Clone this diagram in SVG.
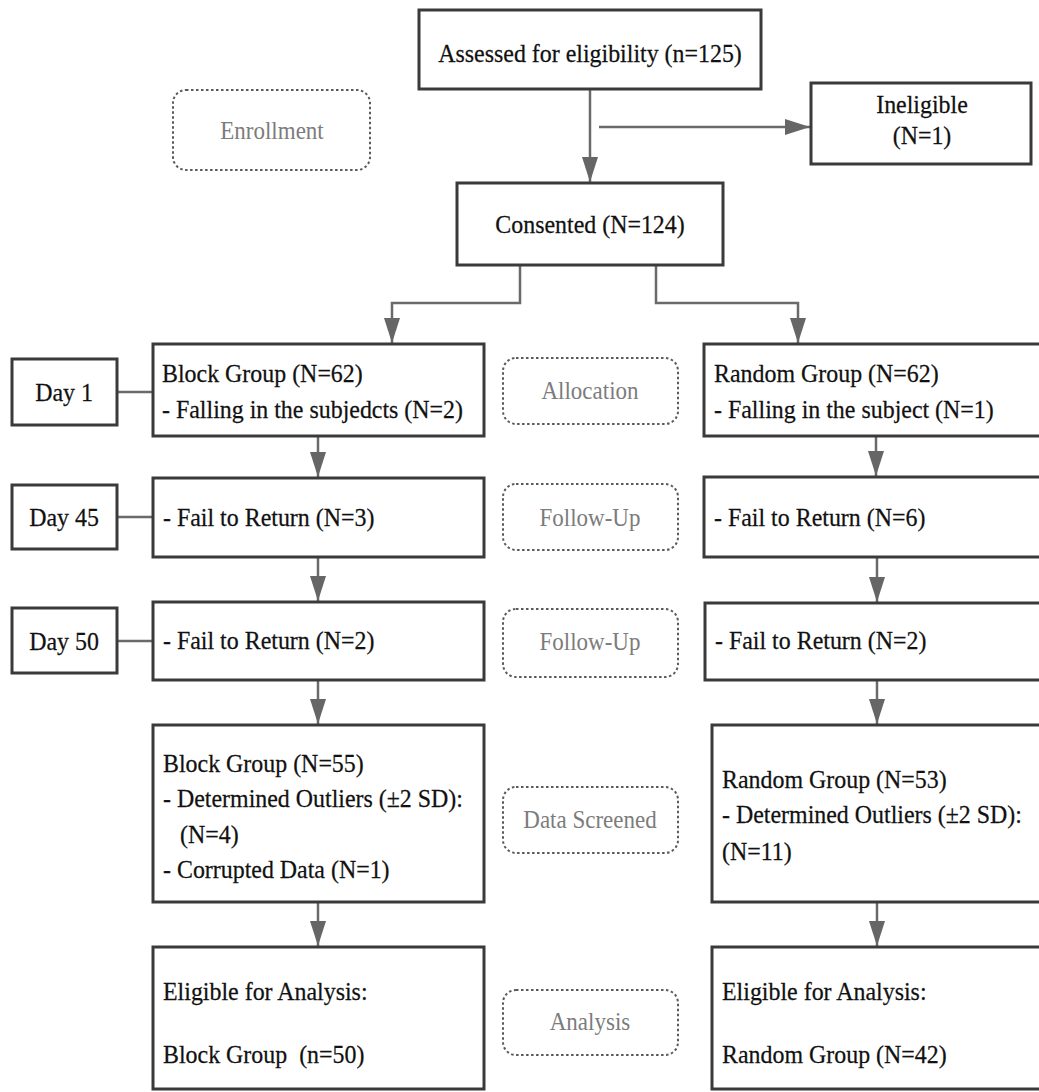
<svg xmlns="http://www.w3.org/2000/svg" width="1039" height="1092" viewBox="0 0 1039 1092">
<style>
.box{fill:#fff;stroke:#3a3a3a;stroke-width:3}
.phase{fill:#fff;stroke:#5a5a5a;stroke-width:2;stroke-dasharray:2.5 2.5}
.t{font-family:"Liberation Serif","Times New Roman",serif;font-size:26px;fill:#111;stroke:#111;stroke-width:0.25}
.c{text-anchor:middle}
.p{font-family:"Liberation Serif","Times New Roman",serif;font-size:25px;fill:#7c7c7c;text-anchor:middle}
.ln{fill:none;stroke:#6a6a6a;stroke-width:2.5}
</style>
<defs>
<marker id="ah" markerUnits="userSpaceOnUse" markerWidth="26" markerHeight="18" refX="25" refY="8" orient="auto">
<path d="M0,0 L25,8 L0,16 Z" fill="#666"/>
</marker>
</defs>
<rect width="1039" height="1092" fill="#fff"/>
<g id="connectors">
<line class="ln" x1="590" y1="89" x2="590" y2="182" marker-end="url(#ah)"/>
<line class="ln" x1="599" y1="127" x2="810" y2="127" marker-end="url(#ah)"/>
<path class="ln" d="M520,265 V303 H392 V343" marker-end="url(#ah)"/>
<path class="ln" d="M656,265 V303 H798 V343" marker-end="url(#ah)"/>
<line class="ln" x1="117" y1="392" x2="153" y2="392"/>
<line class="ln" x1="117" y1="517" x2="153" y2="517"/>
<line class="ln" x1="117" y1="641" x2="153" y2="641"/>
<line class="ln" x1="318" y1="436" x2="318" y2="477" marker-end="url(#ah)"/>
<line class="ln" x1="318" y1="557" x2="318" y2="601" marker-end="url(#ah)"/>
<line class="ln" x1="318" y1="680" x2="318" y2="724" marker-end="url(#ah)"/>
<line class="ln" x1="318" y1="902" x2="318" y2="946" marker-end="url(#ah)"/>
<line class="ln" x1="876" y1="436" x2="876" y2="476" marker-end="url(#ah)"/>
<line class="ln" x1="877" y1="557" x2="877" y2="602" marker-end="url(#ah)"/>
<line class="ln" x1="877" y1="680" x2="877" y2="724" marker-end="url(#ah)"/>
<line class="ln" x1="877" y1="902" x2="877" y2="946" marker-end="url(#ah)"/>
</g>
<g id="assessed"><rect class="box" x="419" y="10" width="342" height="79"/><text class="t c" transform="translate(590,62) scale(0.92,1)">Assessed for eligibility (n=125)</text></g>
<g id="ineligible"><rect class="box" x="811" y="83" width="220" height="81"/><text class="t c" transform="translate(922,113) scale(0.92,1)">Ineligible</text><text class="t c" transform="translate(922,144) scale(0.92,1)">(N=1)</text></g>
<g id="consented"><rect class="box" x="457" y="183" width="266" height="82"/><text class="t c" transform="translate(590,233) scale(0.92,1)">Consented (N=124)</text></g>
<g id="enrollment"><rect class="phase" x="173" y="90" width="197" height="80" rx="13"/><text class="p" transform="translate(272,139) scale(0.92,1)">Enrollment</text></g>
<g id="allocation"><rect class="phase" x="503" y="358" width="175" height="66" rx="13"/><text class="p" transform="translate(590,399) scale(0.92,1)">Allocation</text></g>
<g id="followup1"><rect class="phase" x="503" y="484" width="175" height="66" rx="13"/><text class="p" transform="translate(590,526) scale(0.92,1)">Follow-Up</text></g>
<g id="followup2"><rect class="phase" x="503" y="609" width="175" height="68" rx="13"/><text class="p" transform="translate(590,650) scale(0.92,1)">Follow-Up</text></g>
<g id="datascreened"><rect class="phase" x="503" y="787" width="175" height="66" rx="13"/><text class="p" transform="translate(590,828) scale(0.92,1)">Data Screened</text></g>
<g id="analysis"><rect class="phase" x="503" y="990" width="175" height="65" rx="13"/><text class="p" transform="translate(590,1030) scale(0.92,1)">Analysis</text></g>
<g id="day1"><rect class="box" x="12" y="359" width="105" height="66"/><text class="t c" transform="translate(64,401) scale(0.92,1)">Day 1</text></g>
<g id="day45"><rect class="box" x="12" y="485" width="105" height="64"/><text class="t c" transform="translate(64,526) scale(0.92,1)">Day 45</text></g>
<g id="day50"><rect class="box" x="12" y="608" width="105" height="65"/><text class="t c" transform="translate(64,650) scale(0.92,1)">Day 50</text></g>
<g id="block62"><rect class="box" x="153" y="344" width="331" height="92"/><text class="t" transform="translate(162,382) scale(0.92,1)">Block Group (N=62)</text><text class="t" transform="translate(162,418) scale(0.92,1)">- Falling in the subjedcts (N=2)</text></g>
<g id="random62"><rect class="box" x="704" y="344" width="345" height="92"/><text class="t" transform="translate(714,382) scale(0.92,1)">Random Group (N=62)</text><text class="t" transform="translate(714,418) scale(0.92,1)">- Falling in the subject (N=1)</text></g>
<g id="blockfail45"><rect class="box" x="153" y="478" width="331" height="79"/><text class="t" transform="translate(163,526) scale(0.92,1)">- Fail to Return (N=3)</text></g>
<g id="randomfail45"><rect class="box" x="704" y="477" width="345" height="80"/><text class="t" transform="translate(714,526) scale(0.92,1)">- Fail to Return (N=6)</text></g>
<g id="blockfail50"><rect class="box" x="153" y="602" width="331" height="78"/><text class="t" transform="translate(163,649) scale(0.92,1)">- Fail to Return (N=2)</text></g>
<g id="randomfail50"><rect class="box" x="705" y="603" width="344" height="77"/><text class="t" transform="translate(715,649) scale(0.92,1)">- Fail to Return (N=2)</text></g>
<g id="block55"><rect class="box" x="153" y="725" width="331" height="177"/><text class="t" transform="translate(163,772) scale(0.92,1)">Block Group (N=55)</text><text class="t" transform="translate(163,807) scale(0.92,1)">- Determined Outliers (±2 SD):</text><text class="t" transform="translate(180,843) scale(0.92,1)">(N=4)</text><text class="t" transform="translate(163,878) scale(0.92,1)">- Corrupted Data (N=1)</text></g>
<g id="random53"><rect class="box" x="712" y="725" width="337" height="177"/><text class="t" transform="translate(722,788) scale(0.92,1)">Random Group (N=53)</text><text class="t" transform="translate(722,823) scale(0.92,1)">- Determined Outliers (±2 SD):</text><text class="t" transform="translate(722,860) scale(0.92,1)">(N=11)</text></g>
<g id="blockeligible"><rect class="box" x="153" y="947" width="331" height="142"/><text class="t" transform="translate(163,1000) scale(0.92,1)">Eligible for Analysis:</text><text class="t" transform="translate(163,1063) scale(0.92,1)" xml:space="preserve">Block Group  (n=50)</text></g>
<g id="randomeligible"><rect class="box" x="712" y="947" width="337" height="142"/><text class="t" transform="translate(722,1000) scale(0.92,1)">Eligible for Analysis:</text><text class="t" transform="translate(722,1063) scale(0.92,1)">Random Group (N=42)</text></g>
</svg>
